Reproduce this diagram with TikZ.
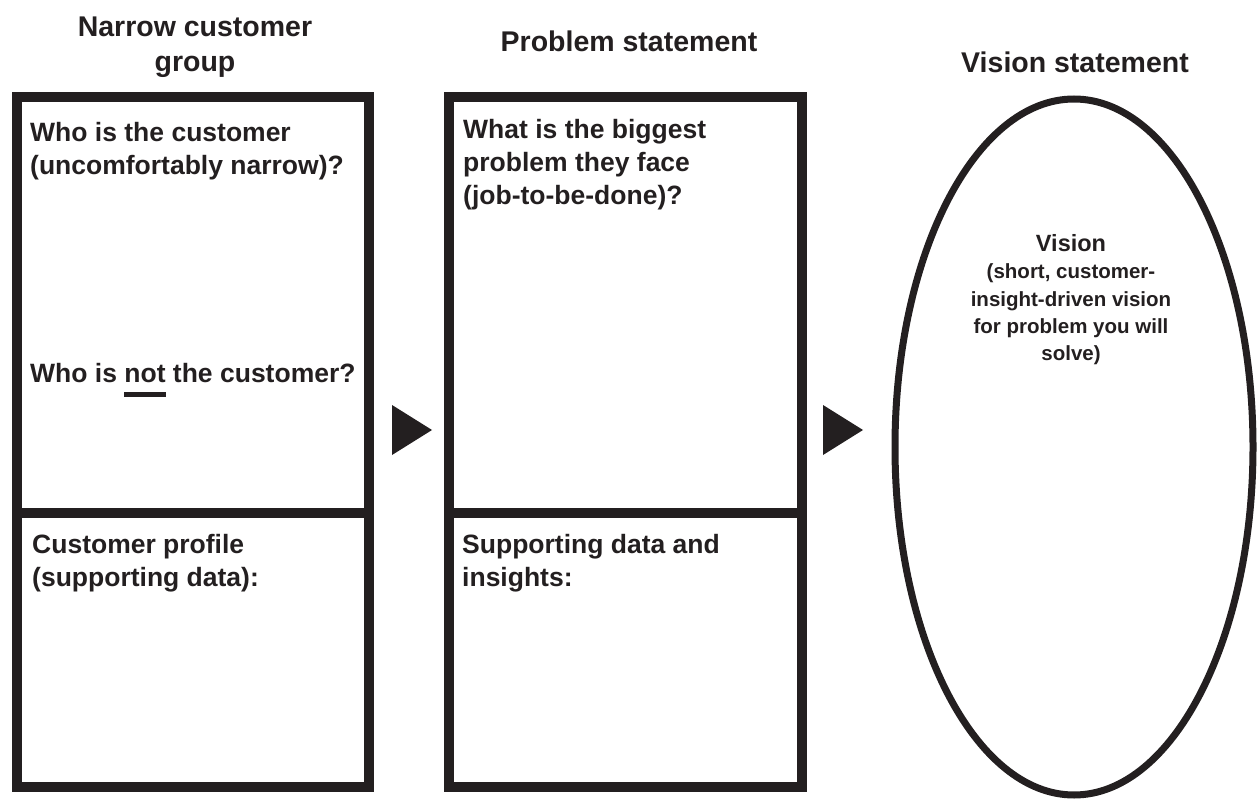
\documentclass[tikz,border=0pt]{standalone}
\usepackage{fontspec}
\setmainfont{Liberation Sans}
\usetikzlibrary{shapes.geometric}
\definecolor{ink}{HTML}{231F20}
\newcommand\thickul[1]{\setbox0\hbox{#1}\rlap{\rule[-15pt]{\wd0}{4.5pt}}#1}
\begin{document}
\begin{tikzpicture}[x=1pt,y=-1pt,
  title/.style={anchor=base,inner sep=0pt,text=ink,font=\fontsize{28.5}{34}\selectfont\bfseries},
  body/.style={anchor=base west,inner sep=0pt,text=ink,font=\fontsize{26.5}{33}\selectfont\bfseries},
  vis/.style={anchor=base,inner sep=0pt,text=ink,font=\fontsize{20.5}{27}\selectfont\bfseries},
  panel/.style={draw=ink,line width=10pt,rectangle,inner sep=0pt,minimum height=690pt},
  divider/.style={draw=ink,line width=10pt},
  oval/.style={draw=ink,line width=7pt,ellipse,inner sep=0pt,minimum width=358pt,minimum height=696pt},
  pointer/.style={fill=ink}]
\useasboundingbox (0,0) rectangle (1258,799);
% panels
\node[panel,minimum width=352pt] (left) at (193,442) {};
\node[panel,minimum width=353pt] (mid) at (625.5,442) {};
\node[oval] (vision) at (1074,447) {};
\coordinate (ldiv) at (0,513);
\draw[divider] (left.west |- ldiv) -- (left.east |- ldiv);
\draw[divider] (mid.west |- ldiv) -- (mid.east |- ldiv);
% arrowheads
\fill[pointer] (392,405) -- (432,430) -- (392,455) -- cycle;
\fill[pointer] (823,405) -- (863,430) -- (823,455) -- cycle;
% titles
\node[title] (t1a) at (195,37) {Narrow customer};
\node[title] (t1b) at (195,72) {group};
\node[title] (t2) at (629,52) {Problem statement};
\node[title] (t3) at (1075,73) {Vision statement};
% left panel text
\node[body] (l1) at (30,142) {Who is the customer};
\node[body] (l2) at (30,175) {(uncomfortably narrow)?};
\node[body] (l3) at (30,382) {Who is \thickul{not} the customer?};
\node[body] (l4) at (32,553) {Customer profile};
\node[body] (l5) at (32,586) {(supporting data):};
% middle panel text
\node[body] (m1) at (463,139) {What is the biggest};
\node[body] (m2) at (463,172) {problem they face};
\node[body] (m3) at (463,205) {(job-to-be-done)?};
\node[body] (m4) at (462,553) {Supporting data and};
\node[body] (m5) at (462,586) {insights:};
% vision text
\node[vis,font=\fontsize{23.5}{27}\selectfont\bfseries] (v1) at (1071,252) {Vision};
\node[vis] (v2) at (1071,279) {(short, customer-};
\node[vis] (v3) at (1071,307) {insight-driven vision};
\node[vis] (v4) at (1071,334) {for problem you will};
\node[vis] (v5) at (1071,361) {solve)};
\end{tikzpicture}
\end{document}
